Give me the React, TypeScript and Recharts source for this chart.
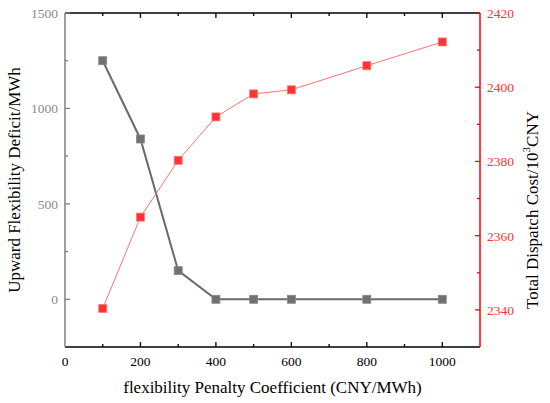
import { LineChart, Line, XAxis, YAxis, Label } from 'recharts';

// values
const penalty = [100, 200, 300, 400, 500, 600, 800, 1000];
const deficit = [1250, 840, 150, 0, 0, 0, 0, 0];
const cost = [2340.4, 2365, 2380.3, 2392, 2398.2, 2399.3, 2405.8, 2412.2];

const xTicks = [0, 100, 200, 300, 400, 500, 600, 700, 800, 900, 1000];
const leftTicks = [0, 250, 500, 750, 1000, 1250, 1500];
const rightTicks = [2340, 2350, 2360, 2370, 2380, 2390, 2400, 2410, 2420];

const data = penalty.map((p, i) => ({ p, deficit: deficit[i], cost: cost[i] }));

const FONT = '"Liberation Serif", "Times New Roman", serif';
const GRAY = '#6a6a6a';
const RED = '#ff3333';

function squareDot(fill: string, stroke: string) {
  return (props: any) => {
    const { cx, cy, index } = props;
    if (cx == null || cy == null) return <g key={index} />;
    return (
      <rect
        key={index}
        x={cx - 4}
        y={cy - 4}
        width={8}
        height={8}
        fill={fill}
        stroke={stroke}
        strokeWidth={0.8}
      />
    );
  };
}

function BottomTick(props: any) {
  const { x, y, payload } = props;
  const v = payload.value;
  const major = v % 200 === 0;
  return (
    <g>
      {v !== 0 && (
        <line x1={x} x2={x} y1={y} y2={y - (major ? 5 : 3)} stroke="#000" strokeWidth={1.3} />
      )}
      {major && (
        <text x={x} y={y + 19} textAnchor="middle" fill="#000" fontSize={13.5} fontFamily={FONT}>
          {v}
        </text>
      )}
    </g>
  );
}

function TopTick(props: any) {
  const { x, y, payload } = props;
  const v = payload.value;
  if (v === 0) return <g />;
  const major = v % 200 === 0;
  return <line x1={x} x2={x} y1={y} y2={y + (major ? 5 : 3)} stroke="#000" strokeWidth={1.3} />;
}

function LeftTick(props: any) {
  const { x, y, payload } = props;
  const v = payload.value;
  const major = v % 500 === 0;
  return (
    <g>
      <line x1={x} x2={x + (major ? 5 : 3)} y1={y} y2={y} stroke="#808080" strokeWidth={1.3} />
      {major && (
        <text x={x - 7} y={y + 5} textAnchor="end" fill="#8a8a8a" fontSize={13.5} fontFamily={FONT}>
          {v}
        </text>
      )}
    </g>
  );
}

function RightTick(props: any) {
  const { x, y, payload } = props;
  const v = payload.value;
  const major = v % 20 === 0;
  return (
    <g>
      <line x1={x} x2={x - (major ? 5 : 3)} y1={y} y2={y} stroke="#ff0000" strokeWidth={1.3} />
      {major && (
        <text x={x + 7} y={y + 5} textAnchor="start" fill="#ff3333" fontSize={13.5} fontFamily={FONT}>
          {v}
        </text>
      )}
    </g>
  );
}

export default function App() {
  return (
    <div style={{ position: 'absolute', left: 0, top: 0, background: '#fff' }}>
      <LineChart width={550} height={403} data={data} margin={{ top: 12, right: 0, bottom: 0, left: 0 }}>
        <XAxis
          xAxisId="bottom"
          dataKey="p"
          type="number"
          domain={[0, 1100]}
          ticks={xTicks}
          interval={0}
          height={56}
          tickLine={false}
          tickSize={0}
          tickMargin={0}
          tick={<BottomTick />}
          axisLine={{ stroke: '#000', strokeWidth: 1.5 }}
        >
          <Label
            content={({ viewBox }: any) => (
              <text
                x={viewBox.x + viewBox.width / 2}
                y={viewBox.y + 46}
                textAnchor="middle"
                fill="#000"
                fontSize={17}
                fontFamily={FONT}
              >
                flexibility Penalty Coefficient (CNY/MWh)
              </text>
            )}
          />
        </XAxis>
        <XAxis
          xAxisId="top"
          orientation="top"
          dataKey="p"
          type="number"
          domain={[0, 1100]}
          allowDataOverflow
          ticks={xTicks}
          interval={0}
          height={1}
          tickLine={false}
          tickSize={0}
          tickMargin={0}
          tick={<TopTick />}
          axisLine={{ stroke: '#000', strokeWidth: 1.5 }}
        />
        <YAxis
          yAxisId="left"
          type="number"
          domain={[-250, 1500]}
          ticks={leftTicks}
          interval={0}
          width={65}
          tickLine={false}
          tickSize={0}
          tickMargin={0}
          tick={<LeftTick />}
          axisLine={{ stroke: '#808080', strokeWidth: 1.5 }}
        >
          <Label
            content={({ viewBox }: any) => {
              const cx = viewBox.x + 14;
              const cy = viewBox.y + viewBox.height / 2;
              return (
                <text
                  x={cx}
                  y={cy}
                  transform={`rotate(-90 ${cx} ${cy})`}
                  textAnchor="middle"
                  dominantBaseline="central"
                  fill="#000"
                  fontSize={17}
                  fontFamily={FONT}
                >
                  Upward Flexibility Deficit/MWh
                </text>
              );
            }}
          />
        </YAxis>
        <YAxis
          yAxisId="right"
          orientation="right"
          type="number"
          domain={[2330, 2420]}
          ticks={rightTicks}
          interval={0}
          width={70}
          tickLine={false}
          tickSize={0}
          tickMargin={0}
          tick={<RightTick />}
          axisLine={{ stroke: '#ff0000', strokeWidth: 1.5 }}
        >
          <Label
            content={({ viewBox }: any) => {
              const cx = viewBox.x + 52;
              const cy = viewBox.y + viewBox.height / 2 + 30;
              return (
                <text
                  x={cx}
                  y={cy}
                  transform={`rotate(-90 ${cx} ${cy})`}
                  textAnchor="middle"
                  dominantBaseline="central"
                  fill="#000"
                  fontSize={17}
                  fontFamily={FONT}
                >
                  Total Dispatch Cost/10
                  <tspan dy={-6} fontSize={11}>3</tspan>
                  <tspan dy={6}>CNY</tspan>
                </text>
              );
            }}
          />
        </YAxis>
        <Line
          xAxisId="bottom"
          yAxisId="left"
          dataKey="deficit"
          stroke={GRAY}
          strokeWidth={2}
          dot={squareDot('#707070', '#8a8a8a')}
          activeDot={false}
          isAnimationActive={false}
        />
        <Line
          xAxisId="bottom"
          yAxisId="right"
          dataKey="cost"
          stroke="#ff7373"
          strokeWidth={1}
          dot={squareDot(RED, '#ff7777')}
          activeDot={false}
          isAnimationActive={false}
        />
      </LineChart>
    </div>
  );
}
